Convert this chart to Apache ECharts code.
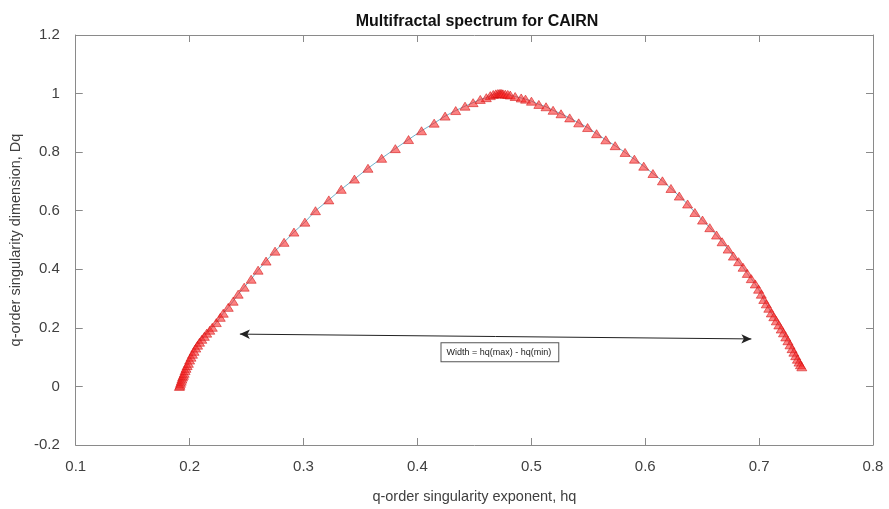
<!DOCTYPE html>
<html>
<head>
<meta charset="utf-8">
<script src="https://cdn.jsdelivr.net/npm/echarts@6/dist/echarts.min.js"></script>
<style>html,body{margin:0;padding:0;background:#fff}#c{width:889px;height:509px}</style>
</head>
<body>
<div id="c"></div>
<script>
// Singularity exponent hq (x) and dimension Dq (y)
const hq = [0.191, 0.1915, 0.192, 0.1926, 0.1932, 0.1938, 0.1945, 0.1952, 0.196, 0.1968, 0.1978, 0.1989, 0.200, 0.2012, 0.2025, 0.2039, 0.2054, 0.207, 0.2087, 0.2107, 0.2129, 0.215, 0.2177, 0.2199, 0.2234, 0.2269, 0.2295, 0.2339, 0.2382, 0.2426, 0.2479, 0.254, 0.2601, 0.2671, 0.275, 0.2829, 0.2916, 0.3012, 0.3105, 0.3222, 0.3331, 0.3447, 0.3566, 0.3686, 0.3806, 0.3922, 0.4036, 0.4147, 0.4243, 0.4336, 0.4418, 0.4489, 0.4552, 0.4605, 0.464, 0.4666, 0.4688, 0.4706, 0.4719, 0.473,
  0.474, 0.4751, 0.4771, 0.4793, 0.4815, 0.4858, 0.4911, 0.4949, 0.5001, 0.5066, 0.5129, 0.5191, 0.5261, 0.5337, 0.5416, 0.5494, 0.5573, 0.5654, 0.5736, 0.5823, 0.5905, 0.5987, 0.6068, 0.6151, 0.6226, 0.6299, 0.6372, 0.6436, 0.6503, 0.6567, 0.6626, 0.6675, 0.6728, 0.6774, 0.682, 0.6859, 0.6896, 0.6931, 0.6966, 0.6995, 0.7019, 0.7041, 0.7063, 0.7085, 0.7107, 0.7129, 0.7151, 0.7173, 0.7194, 0.7214, 0.7234, 0.7253, 0.7271, 0.7289, 0.7305, 0.7321, 0.7336, 0.735, 0.7363, 0.7375];
const Dq = [0.0, 0.004, 0.011, 0.018, 0.025, 0.032, 0.038, 0.045, 0.054, 0.062, 0.071, 0.079, 0.090, 0.100, 0.110, 0.120, 0.131, 0.141, 0.151, 0.161, 0.171, 0.182, 0.192, 0.202, 0.218, 0.236, 0.250, 0.270, 0.291, 0.315, 0.339, 0.366, 0.397, 0.428, 0.462, 0.492, 0.527, 0.561, 0.600, 0.637, 0.673, 0.708, 0.745, 0.779, 0.812, 0.843, 0.873, 0.899, 0.923, 0.942, 0.957, 0.969, 0.980, 0.986, 0.993, 0.997, 0.999, 1.0, 1.0, 1.0,
  1.0, 0.999, 0.998, 0.997, 0.995, 0.990, 0.985, 0.981, 0.974, 0.963, 0.955, 0.943, 0.931, 0.917, 0.900, 0.884, 0.863, 0.842, 0.822, 0.799, 0.776, 0.752, 0.727, 0.702, 0.676, 0.650, 0.623, 0.594, 0.568, 0.542, 0.517, 0.494, 0.469, 0.445, 0.426, 0.407, 0.386, 0.368, 0.350, 0.332, 0.315, 0.297, 0.282, 0.267, 0.251, 0.238, 0.224, 0.210, 0.196, 0.183, 0.169, 0.156, 0.142, 0.129, 0.117, 0.105, 0.093, 0.083, 0.074, 0.067];

// Annotation: double arrow endpoints [h, D] and text box centre
const arrowStart = [0.2441, 0.1786];
const arrowEnd = [0.6932, 0.1622];
const noteText = 'Width = hq(max) - hq(min)';
const notePos = [0.4724, 0.1166];

const xTicks = {min: 0.1, max: 0.8, interval: 0.1};
const yTicks = {min: -0.2, max: 1.2, interval: 0.2};
const titleText = 'Multifractal spectrum for CAIRN';
const xName = 'q-order singularity exponent, hq';
const yName = 'q-order singularity dimension, Dq';

const points = hq.map((h, i) => [h, Dq[i]]);
const FONT = 'Liberation Sans, Arial, Helvetica, sans-serif';
const axisCol = '#8a8a8a';
const labCol = '#404040';

function fmt(v) { return String(Math.round(v * 10) / 10); }

const chart = echarts.init(document.getElementById('c'), null, {renderer: 'canvas'});
const baseX = {
  type: 'value', min: xTicks.min, max: xTicks.max, interval: xTicks.interval,
  splitLine: {show: false},
  axisLine: {show: true, onZero: false, lineStyle: {color: axisCol, width: 1}},
  axisTick: {show: true, inside: true, length: 7, lineStyle: {color: axisCol}},
};
const baseY = {
  type: 'value', min: yTicks.min, max: yTicks.max, interval: yTicks.interval,
  splitLine: {show: false},
  axisLine: {show: true, onZero: false, lineStyle: {color: axisCol, width: 1}},
  axisTick: {show: true, inside: true, length: 7, lineStyle: {color: axisCol}},
};
chart.setOption({
  animation: false,
  backgroundColor: '#ffffff',
  title: {
    text: titleText, left: 472, top: 9, textAlign: 'center',
    textStyle: {fontFamily: FONT, fontSize: 16, fontWeight: 'bold', color: '#111'}
  },
  grid: {left: 72, right: 16, top: 35, bottom: 64, containLabel: false},
  xAxis: [
    Object.assign({}, baseX, {
      position: 'bottom',
      name: xName, nameLocation: 'middle', nameGap: 44,
      nameTextStyle: {fontFamily: FONT, fontSize: 14.5, color: labCol},
      axisLabel: {show: true, margin: 14, fontFamily: FONT, fontSize: 15, color: labCol, formatter: fmt}
    }),
    Object.assign({}, baseX, {position: 'top', axisLabel: {show: false}})
  ],
  yAxis: [
    Object.assign({}, baseY, {
      position: 'left',
      name: yName, nameLocation: 'middle', nameGap: 48, nameRotate: 90,
      nameTextStyle: {fontFamily: FONT, fontSize: 14.5, color: labCol},
      axisLabel: {show: true, margin: 16, fontFamily: FONT, fontSize: 15, color: labCol, formatter: fmt}
    }),
    Object.assign({}, baseY, {position: 'right', axisLabel: {show: false}})
  ],
  series: [
    {
      type: 'line', xAxisIndex: 0, yAxisIndex: 0,
      data: points,
      symbol: 'triangle', symbolSize: [10, 8],
      showAllSymbol: true,
      lineStyle: {color: '#6fb2cc', width: 1},
      itemStyle: {color: 'rgba(250,40,40,0.58)', borderColor: 'rgba(210,20,20,0.7)', borderWidth: 0.8},
      emphasis: {disabled: true},
      z: 3
    },
    {
      type: 'line', xAxisIndex: 0, yAxisIndex: 0, data: [],
      silent: true,
      markLine: {
        silent: true, animation: false,
        symbol: ['arrow', 'arrow'], symbolSize: [7, 10],
        lineStyle: {color: '#222', width: 1, type: 'solid'},
        label: {show: false},
        data: [[{coord: arrowStart}, {coord: arrowEnd}]]
      },
      markPoint: {
        silent: true, animation: false,
        symbol: 'rect', symbolSize: 0,
        label: {
          show: true, position: 'inside', formatter: noteText,
          fontFamily: FONT, fontSize: 9, color: '#222',
          backgroundColor: '#fff', borderColor: '#555', borderWidth: 1,
          padding: [5, 7, 4, 5]
        },
        data: [{coord: notePos}]
      }
    }
  ]
});
</script>
</body>
</html>
